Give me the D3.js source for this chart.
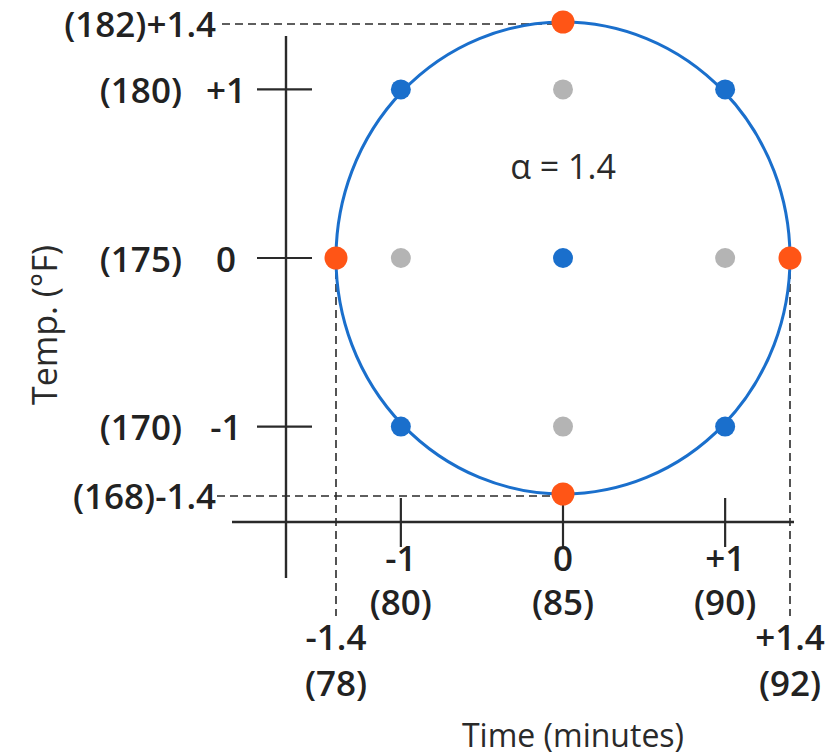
<!DOCTYPE html>
<html>
<head>
<meta charset="utf-8">
<script src="https://cdn.jsdelivr.net/npm/d3@7"></script>
<style>
  html, body { margin: 0; padding: 0; background: #fff; }
  svg { display: block; }
  text { font-family: "Open Sans", "Noto Sans", sans-serif; fill: #222; font-weight: 600; }
  text.title { font-weight: 400; fill: #2a2a2a; }
</style>
</head>
<body>
<svg id="chart" width="826" height="754"></svg>
<script>
// Central composite design, two factors, alpha = 1.4
const alpha = 1.4;

// Design points in coded units
const factorialPts = [[-1, 1], [1, 1], [-1, -1], [1, -1]];
const centerPts = [[0, 0]];
const axialPts = [[-1.4, 0], [1.4, 0], [0, 1.4], [0, -1.4]];
const facePts = [[-1, 0], [1, 0], [0, 1], [0, -1]];

// Axis tick labels: coded level and actual setting
const xCoded = ["-1.4", "-1", "0", "+1", "+1.4"];
const xCodedVal = [-1.4, -1, 0, 1, 1.4];
const xActual = [78, 80, 85, 90, 92];
const yCoded = ["+1.4", "+1", "0", "-1", "-1.4"];
const yCodedVal = [1.4, 1, 0, -1, -1.4];
const yActual = [182, 180, 175, 170, 168];

const svg = d3.select("#chart");
const x = d3.scaleLinear().domain([-alpha, alpha]).range([336, 790]);
const y = d3.scaleLinear().domain([-alpha, alpha]).range([494, 22]);

const ink = "#2a2a2a";
const blue = "#1a6fcc";
const orange = "#ff5516";
const gray = "#b4b4b4";
const fs = 35;

// axis frame positions
const yAxisX = 286, xAxisY = 522;

// vertical axis and horizontal axis
svg.append("line").attr("x1", yAxisX).attr("x2", yAxisX).attr("y1", 36).attr("y2", 578)
  .attr("stroke", ink).attr("stroke-width", 2.4);
svg.append("line").attr("x1", 232).attr("x2", 794).attr("y1", xAxisY).attr("y2", xAxisY)
  .attr("stroke", ink).attr("stroke-width", 2.4);

// y ticks at -1, 0, +1
[1, 0, -1].forEach(v => {
  svg.append("line").attr("x1", yAxisX - 29).attr("x2", yAxisX + 26)
    .attr("y1", y(v)).attr("y2", y(v)).attr("stroke", ink).attr("stroke-width", 2.2);
});
// x ticks at -1, 0, +1
[-1, 0, 1].forEach(v => {
  svg.append("line").attr("x1", x(v)).attr("x2", x(v))
    .attr("y1", v === 0 ? y(-alpha) : xAxisY - 24).attr("y2", xAxisY + 25)
    .attr("stroke", ink).attr("stroke-width", 2.2);
});

// dashed guides to the axial points
const dash = "8,5";
svg.append("line").attr("x1", 222).attr("x2", x(0)).attr("y1", y(alpha) + 2).attr("y2", y(alpha) + 2)
  .attr("stroke", ink).attr("stroke-width", 1.6).attr("stroke-dasharray", dash);
svg.append("line").attr("x1", 217).attr("x2", x(0)).attr("y1", y(-alpha) + 2).attr("y2", y(-alpha) + 2)
  .attr("stroke", ink).attr("stroke-width", 1.6).attr("stroke-dasharray", dash);
[-alpha, alpha].forEach(v => {
  svg.append("line").attr("x1", x(v)).attr("x2", x(v)).attr("y1", y(0)).attr("y2", 616)
    .attr("stroke", ink).attr("stroke-width", 1.6).attr("stroke-dasharray", dash);
});

// circle through the axial points
svg.append("ellipse")
  .attr("cx", x(0)).attr("cy", y(0))
  .attr("rx", x(alpha) - x(0)).attr("ry", y(0) - y(alpha))
  .attr("fill", "none").attr("stroke", blue).attr("stroke-width", 3);

// design points
function dots(data, color, r) {
  svg.append("g").selectAll("circle").data(data).join("circle")
    .attr("cx", d => x(d[0])).attr("cy", d => y(d[1])).attr("r", r).attr("fill", color);
}
dots(facePts, gray, 10);
dots(factorialPts, blue, 10);
dots(centerPts, blue, 10);
dots(axialPts, orange, 11.5);

// alpha label
svg.append("text").attr("class", "title").attr("x", x(0)).attr("y", 166).attr("text-anchor", "middle")
  .attr("dominant-baseline", "central").attr("font-size", 34).text("\u03b1 = " + alpha);

// y tick labels
yCodedVal.forEach((v, i) => {
  if (Math.abs(v) === alpha) {
    svg.append("text").attr("x", 216).attr("y", y(v) + 1).attr("text-anchor", "end")
      .attr("dominant-baseline", "central").attr("font-size", fs)
      .text("(" + yActual[i] + ")" + yCoded[i]);
  } else {
    svg.append("text").attr("x", 182).attr("y", y(v)).attr("text-anchor", "end")
      .attr("dominant-baseline", "central").attr("font-size", fs).text("(" + yActual[i] + ")");
    svg.append("text").attr("x", 226).attr("y", y(v)).attr("text-anchor", "middle")
      .attr("dominant-baseline", "central").attr("font-size", fs).text(yCoded[i]);
  }
});

// x tick labels
xCodedVal.forEach((v, i) => {
  const outer = Math.abs(v) === alpha;
  const y1 = outer ? 636 : 557, y2 = outer ? 682 : 601;
  svg.append("text").attr("x", x(v)).attr("y", y1).attr("text-anchor", "middle")
    .attr("dominant-baseline", "central").attr("font-size", fs).text(xCoded[i]);
  svg.append("text").attr("x", x(v)).attr("y", y2).attr("text-anchor", "middle")
    .attr("dominant-baseline", "central").attr("font-size", fs).text("(" + xActual[i] + ")");
});

// axis titles
svg.append("text").attr("class", "title").attr("x", x(0) + 10).attr("y", 734).attr("text-anchor", "middle")
  .attr("dominant-baseline", "central").attr("font-size", 32).text("Time (minutes)");
svg.append("text").attr("class", "title").attr("transform", "translate(44,325) rotate(-90)").attr("text-anchor", "middle")
  .attr("dominant-baseline", "central").attr("font-size", 34).text("Temp. (\u00b0F)");
</script>
</body>
</html>
